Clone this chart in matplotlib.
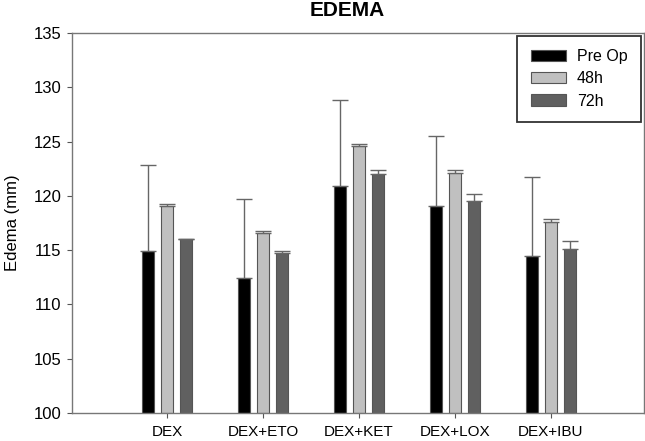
import matplotlib.pyplot as plt
import numpy as np

grupos = ["DEX", "DEX+ETO", "DEX+KET", "DEX+LOX", "DEX+IBU"]
series = ["Pre Op", "48h", "72h"]

pre_op = [114.9, 112.4, 120.95, 119.1, 114.45]
h48 = [119.1, 116.55, 124.6, 122.15, 117.6]
h72 = [116.0, 114.75, 122.05, 119.55, 115.1]

err_pre = [7.95, 7.3, 7.9, 6.4, 7.3]
err_48 = [0.18, 0.18, 0.13, 0.25, 0.25]
err_72 = [0.05, 0.2, 0.37, 0.62, 0.74]

colores = ["#000000", "#c0c0c0", "#606060"]

plt.rcParams["font.family"] = ["Liberation Sans", "DejaVu Sans"]

fig = plt.figure(figsize=(6.45, 4.41), dpi=100)
ax = fig.add_axes([0.1116, 0.0635, 0.8870, 0.8617])

x = np.arange(len(grupos))
ancho = 0.12
offsets = [-0.2, 0.0, 0.2]
valores = [pre_op, h48, h72]
errores = [err_pre, err_48, err_72]

for off, vals, errs, col, nombre in zip(offsets, valores, errores, colores, series):
    ax.bar(x + off, np.array(vals) - 100, ancho, bottom=100, color=col,
           edgecolor="#555555", linewidth=0.8, label=nombre, zorder=2)
    ax.errorbar(x + off, vals, yerr=[np.zeros(len(errs)), errs], fmt="none",
                ecolor="#666666", elinewidth=1, capsize=6, capthick=1, zorder=3)

ax.set_xlim(-0.99, 4.97)
ax.set_ylim(100, 135)
ax.set_yticks(np.arange(100, 136, 5))
ax.set_xticks(x)
ax.set_xticklabels(grupos, fontsize=11)
ax.tick_params(axis="y", labelsize=12, direction="out", length=3.6, color="#555555", pad=4)
ax.tick_params(axis="x", direction="out", length=3.6, color="#555555", pad=5)
for s in ax.spines.values():
    s.set_color("#777777")
    s.set_linewidth(1)

ax.set_ylabel("Edema (mm)", fontsize=12, labelpad=10)
fig.text(347 / 645, 1 - 10 / 441, "EDEMA", fontsize=15, fontweight="bold",
         ha="center", va="center")

leg = ax.legend(loc="upper right", fontsize=11.5, frameon=True, fancybox=False,
                handlelength=2.2, handleheight=0.7, handletextpad=0.7,
                borderpad=0.85, labelspacing=0.45,
                bbox_to_anchor=(0.995, 0.993), borderaxespad=0)
leg.get_frame().set_edgecolor("#000000")
leg.get_frame().set_linewidth(1.3)

plt.savefig("out.png", dpi=100)
